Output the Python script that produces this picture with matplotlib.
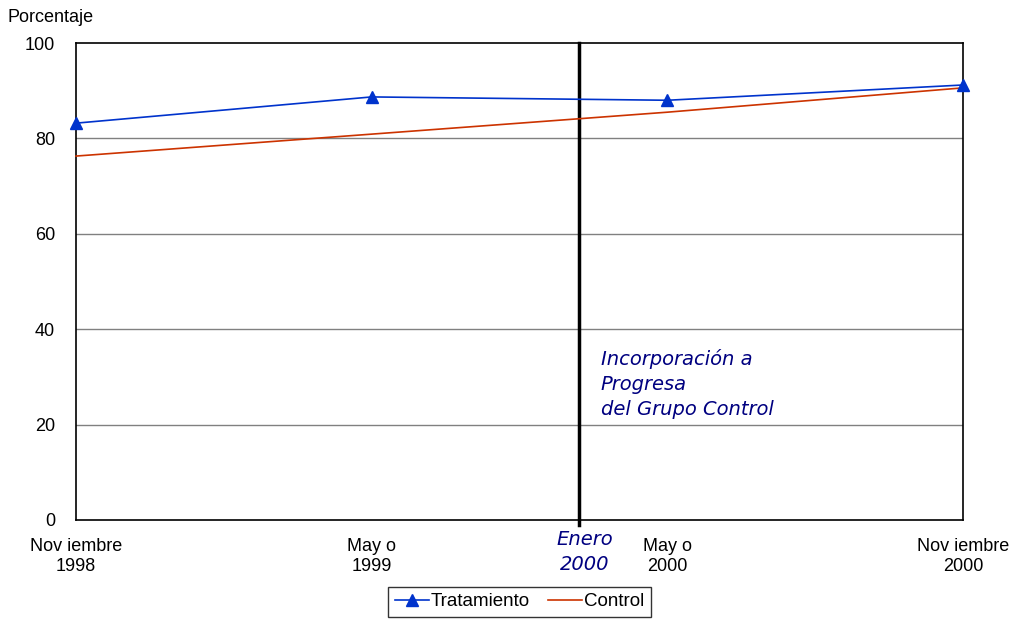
import matplotlib.pyplot as plt
import numpy as np

plt.rcParams['font.family'] = ['Liberation Sans', 'DejaVu Sans']

categories = ['Nov iembre\n1998', 'May o\n1999', 'May o\n2000', 'Nov iembre\n2000']
tratamiento = [83.2, 88.7, 88.0, 91.2]
control = [76.3, 80.9, 85.5, 90.6]
enero_pos = 1.7
yticks = [0, 20, 40, 60, 80, 100]

navy = '#000080'
x = np.arange(len(categories))

fig = plt.figure(figsize=(10.15, 6.2), dpi=100)
ax = fig.add_axes([0.0749, 0.1613, 0.8739, 0.7693])

for v in yticks[1:-1]:
    ax.axhline(v, color='#808080', lw=1, zorder=1)

ax.plot([enero_pos, enero_pos], [-1, 100], color='black', lw=2.5, clip_on=False, zorder=2)

ax.plot(x, tratamiento, color='#0033CC', lw=1.2, marker='^', markersize=9,
        label='Tratamiento', clip_on=False, zorder=4)
ax.plot(x, control, color='#CC3300', lw=1.2, label='Control', clip_on=False, zorder=3)

ax.set_xlim(0, 3)
ax.set_ylim(0, 100)
ax.set_yticks(yticks)
ax.set_xticks(x)
ax.set_xticklabels(categories, fontsize=13, linespacing=1.2)
ax.tick_params(axis='both', length=0, labelsize=13)
ax.tick_params(axis='y', pad=15)
ax.tick_params(axis='x', pad=13)
for s in ax.spines.values():
    s.set_linewidth(1.2)

ax.text(1.775, 28.5, 'Incorporación a\nProgresa\ndel Grupo Control', color=navy,
        family='DejaVu Sans', style='oblique', fontsize=14, va='center', ha='left',
        linespacing=1.4)
ax.text(enero_pos + 0.02, -2.0, 'Enero\n2000', color=navy, family='DejaVu Sans',
        style='oblique', fontsize=14, va='top', ha='center', linespacing=1.4)

fig.text(0.007, 0.971, 'Porcentaje', fontsize=13, va='center', ha='left')

leg = ax.legend(loc='upper center', bbox_to_anchor=(0.5, -0.14), ncol=2, frameon=True,
                fancybox=False, edgecolor='black', fontsize=13.5, handlelength=1.8,
                handletextpad=0.1, columnspacing=1.0, borderpad=0.35, borderaxespad=0)
leg.get_frame().set_linewidth(1)

fig.savefig('out.png', dpi=100)
